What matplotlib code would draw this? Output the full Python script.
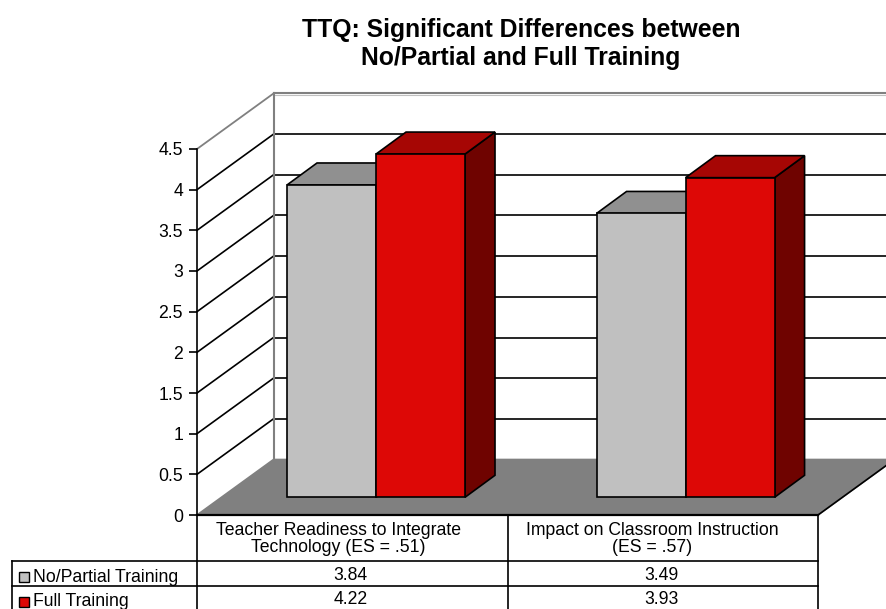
import matplotlib
matplotlib.use("Agg")
import matplotlib.pyplot as plt
from matplotlib.patches import Polygon, Rectangle

plt.rcParams['font.family'] = ['Liberation Sans', 'DejaVu Sans']

# data
categories = ["Teacher Readiness to Integrate\nTechnology (ES = .51)",
              "Impact on Classroom Instruction\n(ES = .57)"]
series_names = ["No/Partial Training", "Full Training"]
no_partial = [3.84, 3.49]
full_training = [4.22, 3.93]
y_ticks = [0, 0.5, 1, 1.5, 2, 2.5, 3, 3.5, 4, 4.5]
y_tick_labels = ["0", "0.5", "1", "1.5", "2", "2.5", "3", "3.5", "4", "4.5"]

W, H = 886, 609
FS = 12.7
LW = 1.2
fig = plt.figure(figsize=(W / 100, H / 100), dpi=100)

# front plane of the fake 3d box, pixel box 197-818 / 149-515
ax = fig.add_axes([197 / W, 1 - 515 / H, (818 - 197) / W, (515 - 149) / H])
ax.set_xlim(0, 2)
ax.set_ylim(0, 4.5)
ax.patch.set_visible(False)
for s in ["top", "right", "bottom"]:
    ax.spines[s].set_visible(False)
ax.spines["left"].set_linewidth(LW)
ax.set_xticks([])
ax.set_yticks(y_ticks)
ax.set_yticklabels(y_tick_labels, fontsize=FS)
ax.tick_params(axis="y", length=5.8, width=LW, pad=4.2)

# box depth in data units
px_x = 310.5
px_y = 366 / 4.5
box_dx = 76.5 / px_x
box_dy = 55.5 / px_y
bar_dx = 30 / px_x
bar_dy = 22 / px_y
bar_w = 89 / px_x
bar_floor = 17.7 / px_y
far_right = 2.6


def poly(pts, face, edge="black", lw=LW, z=3):
    ax.add_patch(Polygon(pts, closed=True, facecolor=face, edgecolor=edge,
                         linewidth=lw, zorder=z, clip_on=False, joinstyle="miter"))


# grid on the side wall and back wall
for t in y_ticks[1:-1]:
    ax.plot([0, box_dx], [t, t + box_dy], color="black", lw=LW, clip_on=False, zorder=1)
    ax.plot([box_dx, far_right], [t + box_dy, t + box_dy], color="black", lw=LW,
            clip_on=False, zorder=1)
top = y_ticks[-1]
ax.plot([0, box_dx], [top, top + box_dy], color="#808080", lw=1.3, clip_on=False, zorder=1)
ax.plot([box_dx, far_right], [top + box_dy, top + box_dy], color="#808080", lw=1.5,
        clip_on=False, zorder=1)
ax.plot([box_dx, far_right], [top + box_dy - 0.02, top + box_dy - 0.02], color="#c0c0c0",
        lw=0.8, clip_on=False, zorder=1)
ax.plot([box_dx, box_dx], [box_dy, top + box_dy], color="#808080", lw=1.5, clip_on=False,
        zorder=1.5)

# floor
poly([(0, 0), (2, 0), (2 + box_dx, box_dy), (box_dx, box_dy)], "#808080", edge="#808080", z=2)
ax.plot([2, 2 + box_dx], [0, box_dy], color="black", lw=LW, clip_on=False, zorder=2.5)
ax.plot([0, 2], [0, 0], color="black", lw=1.6, clip_on=False, zorder=2.5)


def draw_bars(xs, vals, front, top_col, side):
    for x, v in zip(xs, vals):
        l, r = x - bar_w / 2, x + bar_w / 2
        t = bar_floor + v
        poly([(r, bar_floor), (r + bar_dx, bar_floor + bar_dy), (r + bar_dx, t + bar_dy), (r, t)],
             side)
        poly([(l, t), (r, t), (r + bar_dx, t + bar_dy), (l + bar_dx, t + bar_dy)], top_col)
    ax.bar(xs, vals, bar_w, bottom=bar_floor, color=front, edgecolor="black", linewidth=LW,
           zorder=3.5, clip_on=False)


centers = [0.5765, 1.5735]
draw_bars([c - bar_w / 2 for c in centers], no_partial, "#c0c0c0", "#909090", "#606060")
draw_bars([c + bar_w / 2 for c in centers], full_training, "#dd0806", "#a60604", "#6f0300")

# overlay in pixels for the data table and the title
ov = fig.add_axes([0, 0, 1, 1])
ov.set_xlim(0, W)
ov.set_ylim(H, 0)
ov.axis("off")
ov.patch.set_visible(False)

ov.plot([197, 197], [515, 610], color="black", lw=LW)
ov.plot([508.5, 508.5], [515, 610], color="black", lw=LW)
ov.plot([818, 818], [515, 610], color="black", lw=LW)
ov.plot([12.5, 12.5], [561, 610], color="black", lw=LW)
ov.plot([12.5, 818], [561, 561], color="black", lw=LW)
ov.plot([12.5, 818], [585.5, 585.5], color="black", lw=LW)

cat_x = [338.5, 652]
val_x = [350.5, 661.7]
for i, cat in enumerate(categories):
    ov.text(cat_x[i], 539, cat, ha="center", va="center", fontsize=FS, linespacing=1.05)
    ov.text(val_x[i], 575, "%.2f" % no_partial[i], ha="center", va="center", fontsize=FS)
    ov.text(val_x[i], 600, "%.2f" % full_training[i], ha="center", va="center", fontsize=FS)

key_colors = ["#c0c0c0", "#dd0806"]
for name, col, y in zip(series_names, key_colors, [577.2, 602]):
    ov.add_patch(Rectangle((18.7, y - 5), 10, 10, facecolor=col, edgecolor="black", linewidth=1.0))
    ov.text(33, y, name, ha="left", va="center", fontsize=FS)

ov.text(521, 44, "TTQ: Significant Differences between\nNo/Partial and Full Training",
        ha="center", va="center", fontsize=17.8, fontweight="bold", linespacing=1.25)

fig.savefig("out.png", dpi=100)
plt.close()
